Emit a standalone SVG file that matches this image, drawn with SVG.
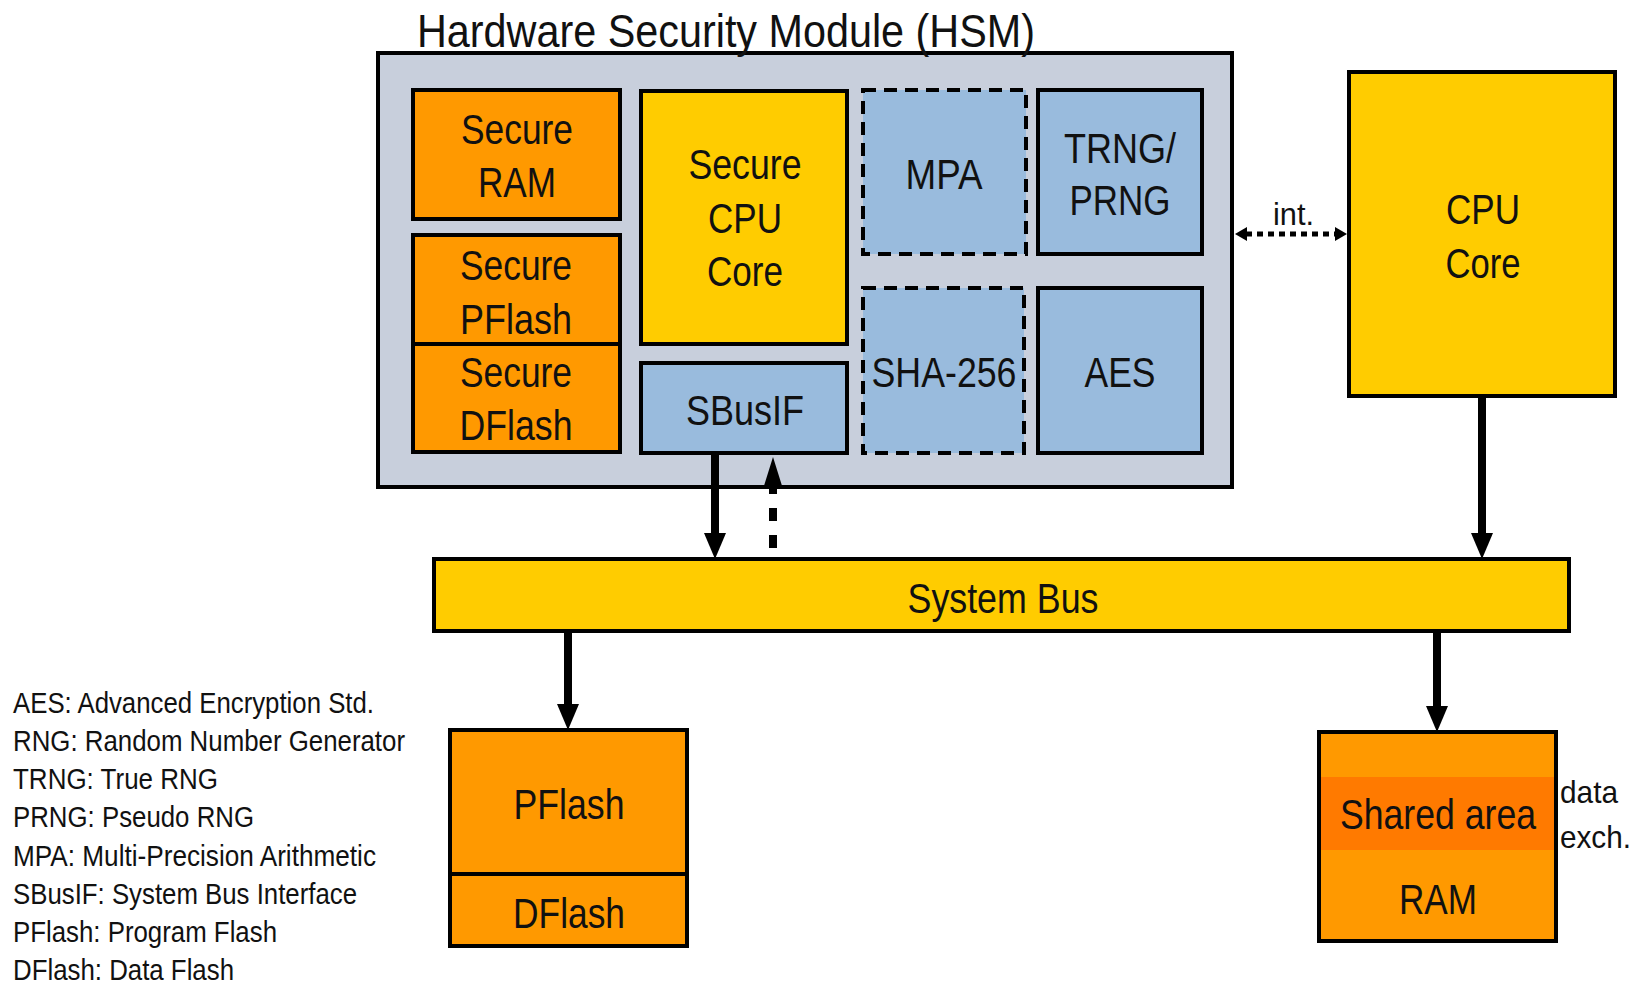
<svg xmlns="http://www.w3.org/2000/svg" width="1636" height="984" viewBox="0 0 1636 984">
<style>
text{font-family:"Liberation Sans Narrow","Liberation Sans",Arial,sans-serif;fill:#111;}
.t{font-size:42px;text-anchor:middle;}
.lg{font-size:29px;}
.box{stroke:#000;stroke-width:4;}
.dash{stroke:#000;stroke-width:4;stroke-dasharray:13 8;}
.or{fill:#FF9900;}
.ye{fill:#FFCC00;}
.bl{fill:#99BBDD;}
.arw{stroke:#000;stroke-width:8;fill:none;}
</style>
<defs>
<marker id="ah" markerUnits="userSpaceOnUse" markerWidth="26" markerHeight="22" refX="1" refY="11" orient="auto" viewBox="0 0 26 22">
<path d="M0,0 L26,11 L0,22 z" fill="#000"/>
</marker>
<marker id="ahl" markerUnits="userSpaceOnUse" markerWidth="32" markerHeight="20" refX="1" refY="10" orient="auto" viewBox="0 0 32 20">
<path d="M0,0 L32,10 L0,20 z" fill="#000"/>
</marker>
<marker id="as" markerUnits="userSpaceOnUse" markerWidth="12" markerHeight="14" refX="1" refY="7" orient="auto-start-reverse" viewBox="0 0 12 14">
<path d="M0,0 L12,7 L0,14 z" fill="#000"/>
</marker>
</defs>
<rect width="1636" height="984" fill="#fff"/>

<g id="hsm">
<rect x="378" y="53" width="854" height="434" fill="#C8CFDC" class="box"/>
<text x="417" y="47" style="font-size:47px" textLength="618" lengthAdjust="spacingAndGlyphs">Hardware Security Module (HSM)</text>
</g>

<g id="secure-ram">
<rect x="413" y="90" width="207" height="129" class="box or"/>
<text class="t" x="517" y="144" textLength="112" lengthAdjust="spacingAndGlyphs">Secure</text>
<text class="t" x="517" y="197" textLength="78" lengthAdjust="spacingAndGlyphs">RAM</text>
</g>
<g id="secure-pflash">
<rect x="413" y="235" width="207" height="109" class="box or"/>
<text class="t" x="516" y="280" textLength="112" lengthAdjust="spacingAndGlyphs">Secure</text>
<text class="t" x="516" y="334" textLength="112" lengthAdjust="spacingAndGlyphs">PFlash</text>
</g>
<g id="secure-dflash">
<rect x="413" y="344" width="207" height="108" class="box or"/>
<text class="t" x="516" y="387" textLength="112" lengthAdjust="spacingAndGlyphs">Secure</text>
<text class="t" x="516" y="440" textLength="113" lengthAdjust="spacingAndGlyphs">DFlash</text>
</g>
<g id="secure-cpu">
<rect x="641" y="91" width="206" height="253" class="box ye"/>
<text class="t" x="745" y="179" textLength="113" lengthAdjust="spacingAndGlyphs">Secure</text>
<text class="t" x="745" y="233" textLength="74" lengthAdjust="spacingAndGlyphs">CPU</text>
<text class="t" x="745" y="286" textLength="76" lengthAdjust="spacingAndGlyphs">Core</text>
</g>
<g id="sbusif">
<rect x="641" y="363" width="206" height="90" class="box bl"/>
<text class="t" x="745" y="425" textLength="118" lengthAdjust="spacingAndGlyphs">SBusIF</text>
</g>
<g id="mpa">
<rect x="863" y="90" width="163" height="164" class="dash bl"/>
<text class="t" x="944" y="189" textLength="77" lengthAdjust="spacingAndGlyphs">MPA</text>
</g>
<g id="trng">
<rect x="1038" y="90" width="164" height="164" class="box bl"/>
<text class="t" x="1120" y="163" textLength="112" lengthAdjust="spacingAndGlyphs">TRNG/</text>
<text class="t" x="1120" y="215" textLength="101" lengthAdjust="spacingAndGlyphs">PRNG</text>
</g>
<g id="sha">
<rect x="863" y="288" width="161" height="165" class="dash bl"/>
<text class="t" x="944" y="387" textLength="145" lengthAdjust="spacingAndGlyphs">SHA-256</text>
</g>
<g id="aes">
<rect x="1038" y="288" width="164" height="165" class="box bl"/>
<text class="t" x="1120" y="387" textLength="71" lengthAdjust="spacingAndGlyphs">AES</text>
</g>

<g id="cpu-core">
<rect x="1349" y="72" width="266" height="324" class="box ye"/>
<text class="t" x="1483" y="224" textLength="74" lengthAdjust="spacingAndGlyphs">CPU</text>
<text class="t" x="1483" y="278" textLength="75" lengthAdjust="spacingAndGlyphs">Core</text>
</g>

<g id="system-bus">
<rect x="434" y="559" width="1135" height="72" class="box ye"/>
<text class="t" x="1003" y="613" textLength="191" lengthAdjust="spacingAndGlyphs">System Bus</text>
</g>

<g id="flash">
<rect x="450" y="730" width="237" height="144" class="box or"/>
<text class="t" x="569" y="819" textLength="111" lengthAdjust="spacingAndGlyphs">PFlash</text>
<rect x="450" y="874" width="237" height="72" class="box or"/>
<text class="t" x="569" y="928" textLength="112" lengthAdjust="spacingAndGlyphs">DFlash</text>
</g>

<g id="ram">
<rect x="1319" y="732" width="237" height="209" class="box or"/>
<rect x="1321" y="777" width="233" height="73" fill="#FF7A00"/>
<text class="t" x="1438" y="829" textLength="196" lengthAdjust="spacingAndGlyphs">Shared area</text>
<text class="t" x="1438" y="914" textLength="78" lengthAdjust="spacingAndGlyphs">RAM</text>
<text x="1560" y="803" style="font-size:32px" textLength="58" lengthAdjust="spacingAndGlyphs">data</text>
<text x="1560" y="848" style="font-size:32px" textLength="71" lengthAdjust="spacingAndGlyphs">exch.</text>
</g>

<g id="connectors">
<line x1="715" y1="455" x2="715" y2="534" class="arw" marker-end="url(#ah)"/>
<line x1="773" y1="548" x2="773" y2="488" class="arw" stroke-dasharray="13 14" marker-end="url(#ahl)"/>
<line x1="1482" y1="398" x2="1482" y2="534" class="arw" marker-end="url(#ah)"/>
<line x1="568" y1="633" x2="568" y2="705" class="arw" marker-end="url(#ah)"/>
<line x1="1437" y1="633" x2="1437" y2="707" class="arw" marker-end="url(#ah)"/>
<line x1="1246" y1="234" x2="1336" y2="234" stroke="#000" stroke-width="5" stroke-dasharray="6 5" marker-start="url(#as)" marker-end="url(#as)"/>
<text x="1273" y="225" style="font-size:32px" textLength="41" lengthAdjust="spacingAndGlyphs">int.</text>
</g>

<g id="legend">
<text class="lg" x="13" y="713" textLength="361" lengthAdjust="spacingAndGlyphs">AES: Advanced Encryption Std.</text>
<text class="lg" x="13" y="751" textLength="392" lengthAdjust="spacingAndGlyphs">RNG: Random Number Generator</text>
<text class="lg" x="13" y="789" textLength="205" lengthAdjust="spacingAndGlyphs">TRNG: True RNG</text>
<text class="lg" x="13" y="827" textLength="241" lengthAdjust="spacingAndGlyphs">PRNG: Pseudo RNG</text>
<text class="lg" x="13" y="866" textLength="363" lengthAdjust="spacingAndGlyphs">MPA: Multi-Precision Arithmetic</text>
<text class="lg" x="13" y="904" textLength="344" lengthAdjust="spacingAndGlyphs">SBusIF: System Bus Interface</text>
<text class="lg" x="13" y="942" textLength="264" lengthAdjust="spacingAndGlyphs">PFlash: Program Flash</text>
<text class="lg" x="13" y="980" textLength="221" lengthAdjust="spacingAndGlyphs">DFlash: Data Flash</text>
</g>
</svg>
